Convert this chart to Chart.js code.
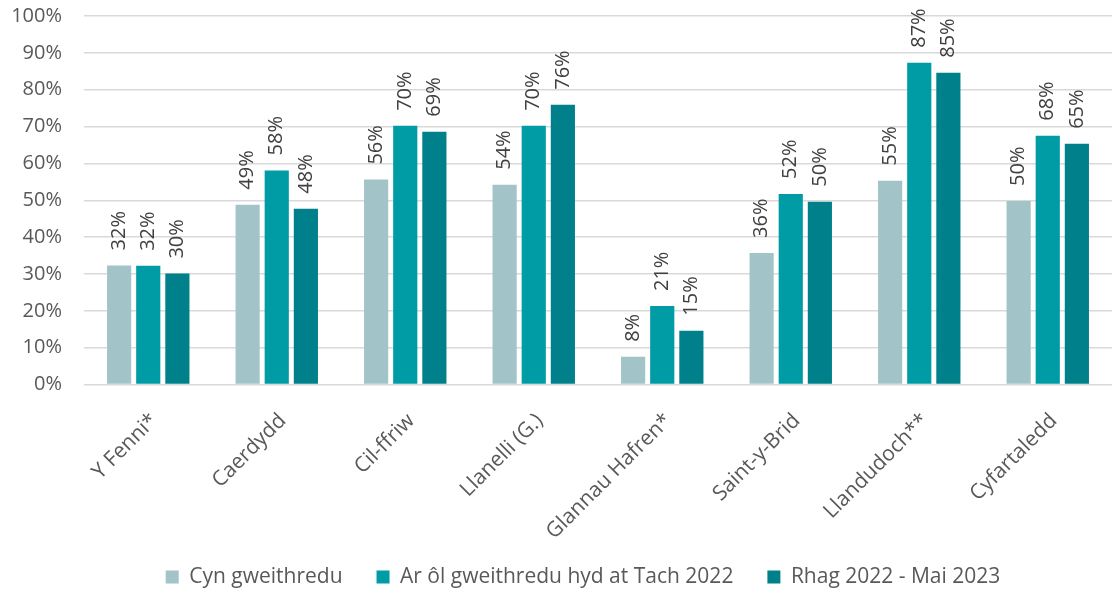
<!DOCTYPE html>
<html>
<head>
<meta charset="utf-8">
<script src="https://cdn.jsdelivr.net/npm/chart.js@4.4.1/dist/chart.umd.min.js"></script>
<style>
  html, body { margin: 0; padding: 0; background: #fff; }
  #wrap { width: 1120px; height: 591px; }
</style>
</head>
<body>
<div id="wrap"><canvas id="chart"></canvas></div>
<script>
// data
const categories = ['Y Fenni*', 'Caerdydd', 'Cil-ffriw', 'Llanelli (G.)', 'Glannau Hafren*', 'Saint-y-Brid', 'Llandudoch**', 'Cyfartaledd'];
const seriesNames = ['Cyn gweithredu', 'Ar ôl gweithredu hyd at Tach 2022', 'Rhag 2022 - Mai 2023'];
const cynValues = [32.3, 48.8, 55.6, 54.2, 7.5, 35.7, 55.3, 49.8];
const arOlValues = [32.2, 58.1, 70.2, 70.2, 21.3, 51.7, 87.3, 67.5];
const rhagValues = [30.1, 47.7, 68.6, 75.9, 14.6, 49.6, 84.6, 65.3];
const yTicks = [0, 10, 20, 30, 40, 50, 60, 70, 80, 90, 100];

const colours = ['#a2c4c9', '#009ca6', '#00808a'];
const fontFamily = '"Open Sans", "Noto Sans", sans-serif';

// labels drawn vertically above each bar
const barLabels = {
    id: 'barLabels',
    afterDatasetsDraw(chart) {
        const ctx = chart.ctx;
        ctx.save();
        ctx.font = '20px ' + fontFamily;
        ctx.fillStyle = '#404040';
        ctx.textAlign = 'left';
        ctx.textBaseline = 'middle';
        chart.data.datasets.forEach((ds, i) => {
            const meta = chart.getDatasetMeta(i);
            meta.data.forEach((bar, j) => {
                ctx.save();
                ctx.translate(bar.x, bar.y - 15);
                ctx.rotate(-Math.PI / 2);
                ctx.fillText(Math.round(ds.data[j]) + '%', 0, 0);
                ctx.restore();
            });
        });
        ctx.restore();
    }
};

// after layout: move the legend a little right, and let the long
// rotated x labels run past the axis box instead of being clipped
const layoutTweaks = {
    id: 'layoutTweaks',
    afterLayout(chart) {
        if (chart.legend) {
            chart.legend.left += 26;
            chart.legend.right += 26;
        }
        chart.scales.x.bottom += 30;
    }
};

new Chart(document.getElementById('chart'), {
    type: 'bar',
    data: {
        labels: categories,
        datasets: [cynValues, arOlValues, rhagValues].map((vals, i) => ({
            label: seriesNames[i],
            data: vals,
            backgroundColor: colours[i],
            borderWidth: 0,
            categoryPercentage: 0.68,
            barPercentage: 0.83
        }))
    },
    options: {
        responsive: true,
        maintainAspectRatio: false,
        animation: false,
        layout: { padding: { left: 2, right: 8, top: 0, bottom: -6.5 } },
        scales: {
            x: {
                grid: { display: false },
                border: { display: false },
                afterFit(scale) { scale.height = 148; },
                ticks: {
                    color: '#595959',
                    font: { family: fontFamily, size: 21 },
                    minRotation: 45,
                    maxRotation: 45,
                    padding: 16,
                    labelOffset: 6
                }
            },
            y: {
                min: 0,
                max: 100,
                afterBuildTicks(axis) { axis.ticks = yTicks.map(v => ({ value: v })); },
                afterFit(scale) {
                    scale.width = 82;
                    scale.paddingTop = 16;
                    scale.paddingBottom = 12;
                },
                grid: { color: '#d9d9d9', lineWidth: 1.5, drawTicks: false },
                border: { display: false },
                ticks: {
                    color: '#595959',
                    font: { family: fontFamily, size: 20 },
                    padding: 22,
                    callback: v => v + '%'
                }
            }
        },
        plugins: {
            legend: {
                position: 'bottom',
                labels: {
                    color: '#595959',
                    font: { family: fontFamily, size: 21 },
                    boxWidth: 13,
                    boxHeight: 13,
                    padding: 34
                }
            },
            tooltip: { enabled: false }
        }
    },
    plugins: [barLabels, layoutTweaks]
});
</script>
</body>
</html>
